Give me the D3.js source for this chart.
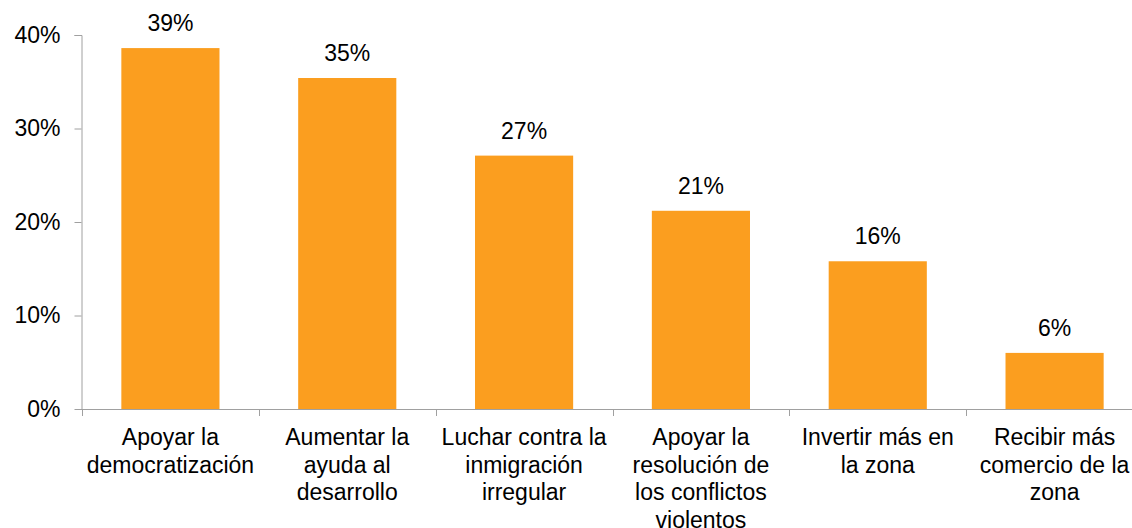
<!DOCTYPE html>
<html><head><meta charset="utf-8">
<script src="https://cdn.jsdelivr.net/npm/d3@7/dist/d3.min.js"></script>
<style>body{margin:0;background:#fff}svg{display:block}text{font-family:"Liberation Sans",Arial,sans-serif;fill:#000}</style>
</head><body><svg id="c" width="1132" height="528"></svg>
<script>
const categories = [
  ["Apoyar la","democratización"],
  ["Aumentar la","ayuda al","desarrollo"],
  ["Luchar contra la","inmigración","irregular"],
  ["Apoyar la","resolución de","los conflictos","violentos"],
  ["Invertir más en","la zona"],
  ["Recibir más","comercio de la","zona"]
];
const values = [38.6, 35.4, 27.1, 21.2, 15.8, 6.0];
const yTicks = [0, 10, 20, 30, 40];

const svg = d3.select("#c");
const x = d3.scaleBand().domain(d3.range(categories.length)).range([82, 1143]).paddingInner(0.445).paddingOuter(0.2225);
const y = d3.scaleLinear().domain([0, 40]).range([409, 35]);
const fs = 23;
const axisColor = "#a0a0a0";

// y axis
const ya = svg.append("g").attr("transform","translate(81.5,0)")
  .call(d3.axisLeft(y).tickValues(yTicks).tickSize(7).tickPadding(14).tickFormat(d => d + "%"));
ya.select(".domain").attr("stroke", axisColor).attr("d", `M-7,${y(40)+0.5}H0.5V${y(0)+0.5}`);
ya.selectAll(".tick line").attr("stroke", axisColor);
ya.selectAll(".tick").attr("transform", d => `translate(0,${y(d)+0.5})`);
ya.selectAll(".tick text").attr("font-size", fs).attr("font-family", '"Liberation Sans",Arial,sans-serif').attr("fill","#000");

// bars
svg.selectAll("rect.bar").data(values).join("rect").attr("class","bar")
  .attr("x",(d,i)=>x(i)).attr("width",x.bandwidth())
  .attr("y",d=>y(d)).attr("height",d=>y(0)-y(d)).attr("fill","#FB9E1F");

// x axis
const step = x.step();
const xa = svg.append("g");
xa.append("line").attr("x1",81).attr("x2",1143).attr("y1",409.5).attr("y2",409.5).attr("stroke",axisColor);
const boundaries = d3.range(categories.length).map(i => x(i) - x.paddingInner()*step/2);
xa.selectAll("line.tk").data(boundaries).join("line").attr("class","tk")
  .attr("x1",d=>Math.round(d)+0.5).attr("x2",d=>Math.round(d)+0.5).attr("y1",409).attr("y2",416).attr("stroke",axisColor);

// category labels
const cl = svg.selectAll("text.cat").data(categories).join("text").attr("class","cat")
  .attr("text-anchor","middle").attr("font-size",fs)
  .attr("transform",(d,i)=>`translate(${x(i)+x.bandwidth()/2},445)`);
cl.selectAll("tspan").data(d=>d).join("tspan").attr("x",0).attr("y",(d,j)=>j*27.7).text(d=>d);

// value labels
svg.selectAll("text.val").data(values).join("text").attr("class","val")
  .attr("text-anchor","middle").attr("font-size",fs)
  .attr("x",(d,i)=>x(i)+x.bandwidth()/2).attr("y",d=>y(d)-17)
  .text(d=>Math.round(d)+"%");
</script></body></html>
